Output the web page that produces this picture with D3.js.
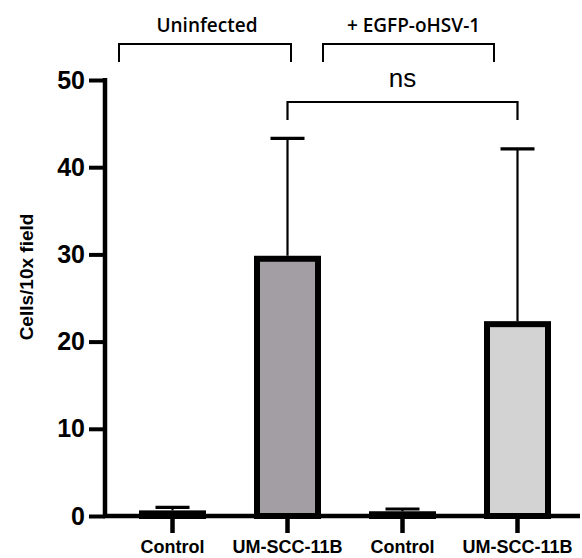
<!DOCTYPE html>
<html lang="en">
<head>
<meta charset="utf-8">
<title>Cells per field</title>
<script src="https://d3js.org/d3.v7.min.js"></script>
<style>
  body { margin: 0; background: #fff; }
  svg { display: block; }
</style>
</head>
<body>
<script>
// data
var categories = ["Control", "UM-SCC-11B", "Control", "UM-SCC-11B"];
var means = [0.3, 29.5, 0.2, 22.0];
var sd = [0.7, 13.8, 0.6, 20.1];
var fills = ["#ffffff", "#a39ea3", "#ffffff", "#d3d3d3"];
var yTicks = [0, 10, 20, 30, 40, 50];
var groups = ["Uninfected", "+ EGFP-oHSV-1"];

var W = 582, H = 558;
var svg = d3.select("body").append("svg")
  .attr("width", W).attr("height", H);

var y = d3.scaleLinear().domain([0, 50]).range([516, 80]);
var x = d3.scaleBand().domain(d3.range(categories.length)).range([115, 575]);
var barW = 61;

// bars
var bars = svg.append("g");
bars.selectAll("rect")
  .data(means)
  .enter().append("rect")
  .attr("x", function(d, i) { return x(i) + x.bandwidth() / 2 - barW / 2; })
  .attr("y", function(d) { return y(d); })
  .attr("width", barW)
  .attr("height", function(d) { return y(0) - y(d); })
  .attr("fill", function(d, i) { return fills[i]; })
  .attr("stroke", "#000")
  .attr("stroke-width", 6);

// error bars (upper only)
var err = svg.append("g").attr("stroke", "#000").attr("stroke-width", 2.2);
means.forEach(function(m, i) {
  var cx = x(i) + x.bandwidth() / 2;
  err.append("line")
    .attr("x1", cx).attr("x2", cx)
    .attr("y1", y(m) - 3).attr("y2", y(m + sd[i]));
  err.append("line")
    .attr("x1", cx - 17).attr("x2", cx + 17)
    .attr("y1", y(m + sd[i])).attr("y2", y(m + sd[i]))
    .attr("stroke-width", 3.2);
});

// y axis
var yAxis = d3.axisLeft(y).tickValues(yTicks).tickSize(16).tickPadding(4).tickSizeOuter(0);
var yg = svg.append("g").attr("transform", "translate(105,0)").call(yAxis);
yg.select(".domain").remove();
yg.append("line").attr("x1", 0).attr("x2", 0).attr("y1", 78).attr("y2", 518)
  .attr("stroke", "#000").attr("stroke-width", 4.5);
yg.selectAll(".tick line").attr("stroke-width", 4);
yg.selectAll(".tick text")
  .attr("font-family", "Liberation Sans, Arial, sans-serif")
  .attr("font-weight", "bold").attr("font-size", 25).attr("fill", "#000");

// x axis
var xAxis = d3.axisBottom(x).tickSize(17).tickPadding(7).tickSizeOuter(0)
  .tickFormat(function(i) { return categories[i]; });
var xg = svg.append("g").attr("transform", "translate(0,516)").call(xAxis);
xg.select(".domain").remove();
xg.append("line").attr("x1", 103).attr("x2", 580).attr("y1", 0).attr("y2", 0)
  .attr("stroke", "#000").attr("stroke-width", 4.5);
xg.selectAll(".tick line").attr("stroke-width", 4.5);
xg.selectAll(".tick text")
  .attr("font-family", "Liberation Sans, Arial, sans-serif")
  .attr("font-weight", "bold").attr("font-size", 18).attr("fill", "#000");

// y label
svg.append("text")
  .attr("transform", "translate(33,277) rotate(-90)")
  .attr("text-anchor", "middle")
  .attr("font-family", "Liberation Sans, Arial, sans-serif")
  .attr("font-weight", "bold").attr("font-size", 19)
  .text("Cells/10x field");

// significance bracket
var x1 = x(1) + x.bandwidth() / 2, x3 = x(3) + x.bandwidth() / 2;
svg.append("path")
  .attr("d", "M" + x1 + ",120V102H" + x3 + "V120")
  .attr("fill", "none").attr("stroke", "#000").attr("stroke-width", 2.2);
svg.append("text")
  .attr("x", (x1 + x3) / 2).attr("y", 87)
  .attr("text-anchor", "middle")
  .attr("font-family", "Liberation Sans, Arial, sans-serif")
  .attr("font-size", 26)
  .text("ns");

// group brackets
var gx = [[119, 291], [323, 494]];
groups.forEach(function(g, i) {
  svg.append("path")
    .attr("d", "M" + gx[i][0] + ",62V44H" + gx[i][1] + "V62")
    .attr("fill", "none").attr("stroke", "#000").attr("stroke-width", 2);
  svg.append("text")
    .attr("x", (gx[i][0] + gx[i][1]) / 2 + (i === 0 ? 2 : 5)).attr("y", 32)
    .attr("text-anchor", "middle")
    .attr("font-family", "Open Sans, sans-serif")
    .attr("font-weight", 600).attr("font-size", 19)
    .text(g);
});
</script>
</body>
</html>
